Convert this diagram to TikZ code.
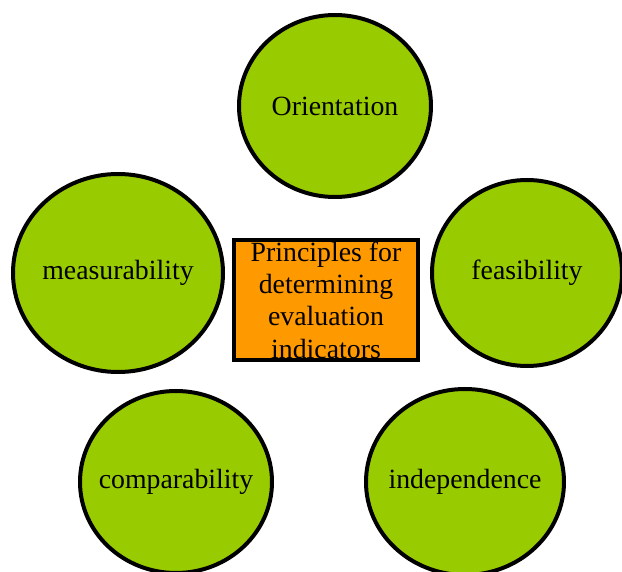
\documentclass[tikz,border=0pt]{standalone}
\usepackage{fontspec}
\setmainfont{Liberation Serif}
\usetikzlibrary{shapes.geometric}
\definecolor{leafgreen}{HTML}{99CC00}
\definecolor{boxorange}{HTML}{FF9900}
\tikzstyle{principle}=[ellipse,draw=black,fill=leafgreen,line width=4pt,inner sep=0pt,font=\fontsize{27.8}{32.3}\selectfont]
\tikzstyle{centre} = [rectangle,draw=black,fill=boxorange,line width=4pt,minimum width=184pt,minimum height=120pt,inner sep=0pt,align=center,font=\fontsize{27.8}{32.3}\selectfont]

\begin{document}
\begin{tikzpicture}[x=1pt,y=-1pt]
	\useasboundingbox (0,0) rectangle (622,572);

	% The principles round the box (zero-width text so the size comes from w/h)
	\foreach \pos/\name/\w/\h/\txt in {{(335,106)/orient/192/182/Orientation},
	                                    {(118,273)/measur/210/198/measurability},
	                                    {(527,273)/feasib/190/186/feasibility},
	                                    {(176,482)/compar/192/182/comparability},
	                                    {(465,482)/indep/198/186/independence}}
		\node[principle, minimum width=\w pt, minimum height=\h pt] (\name) at \pos {\makebox[0pt]{\txt}};

	% Box in the middle
	\node[centre] (core) at (326,300) {Principles for\\determining\\evaluation\\indicators};

\end{tikzpicture}
\end{document}
